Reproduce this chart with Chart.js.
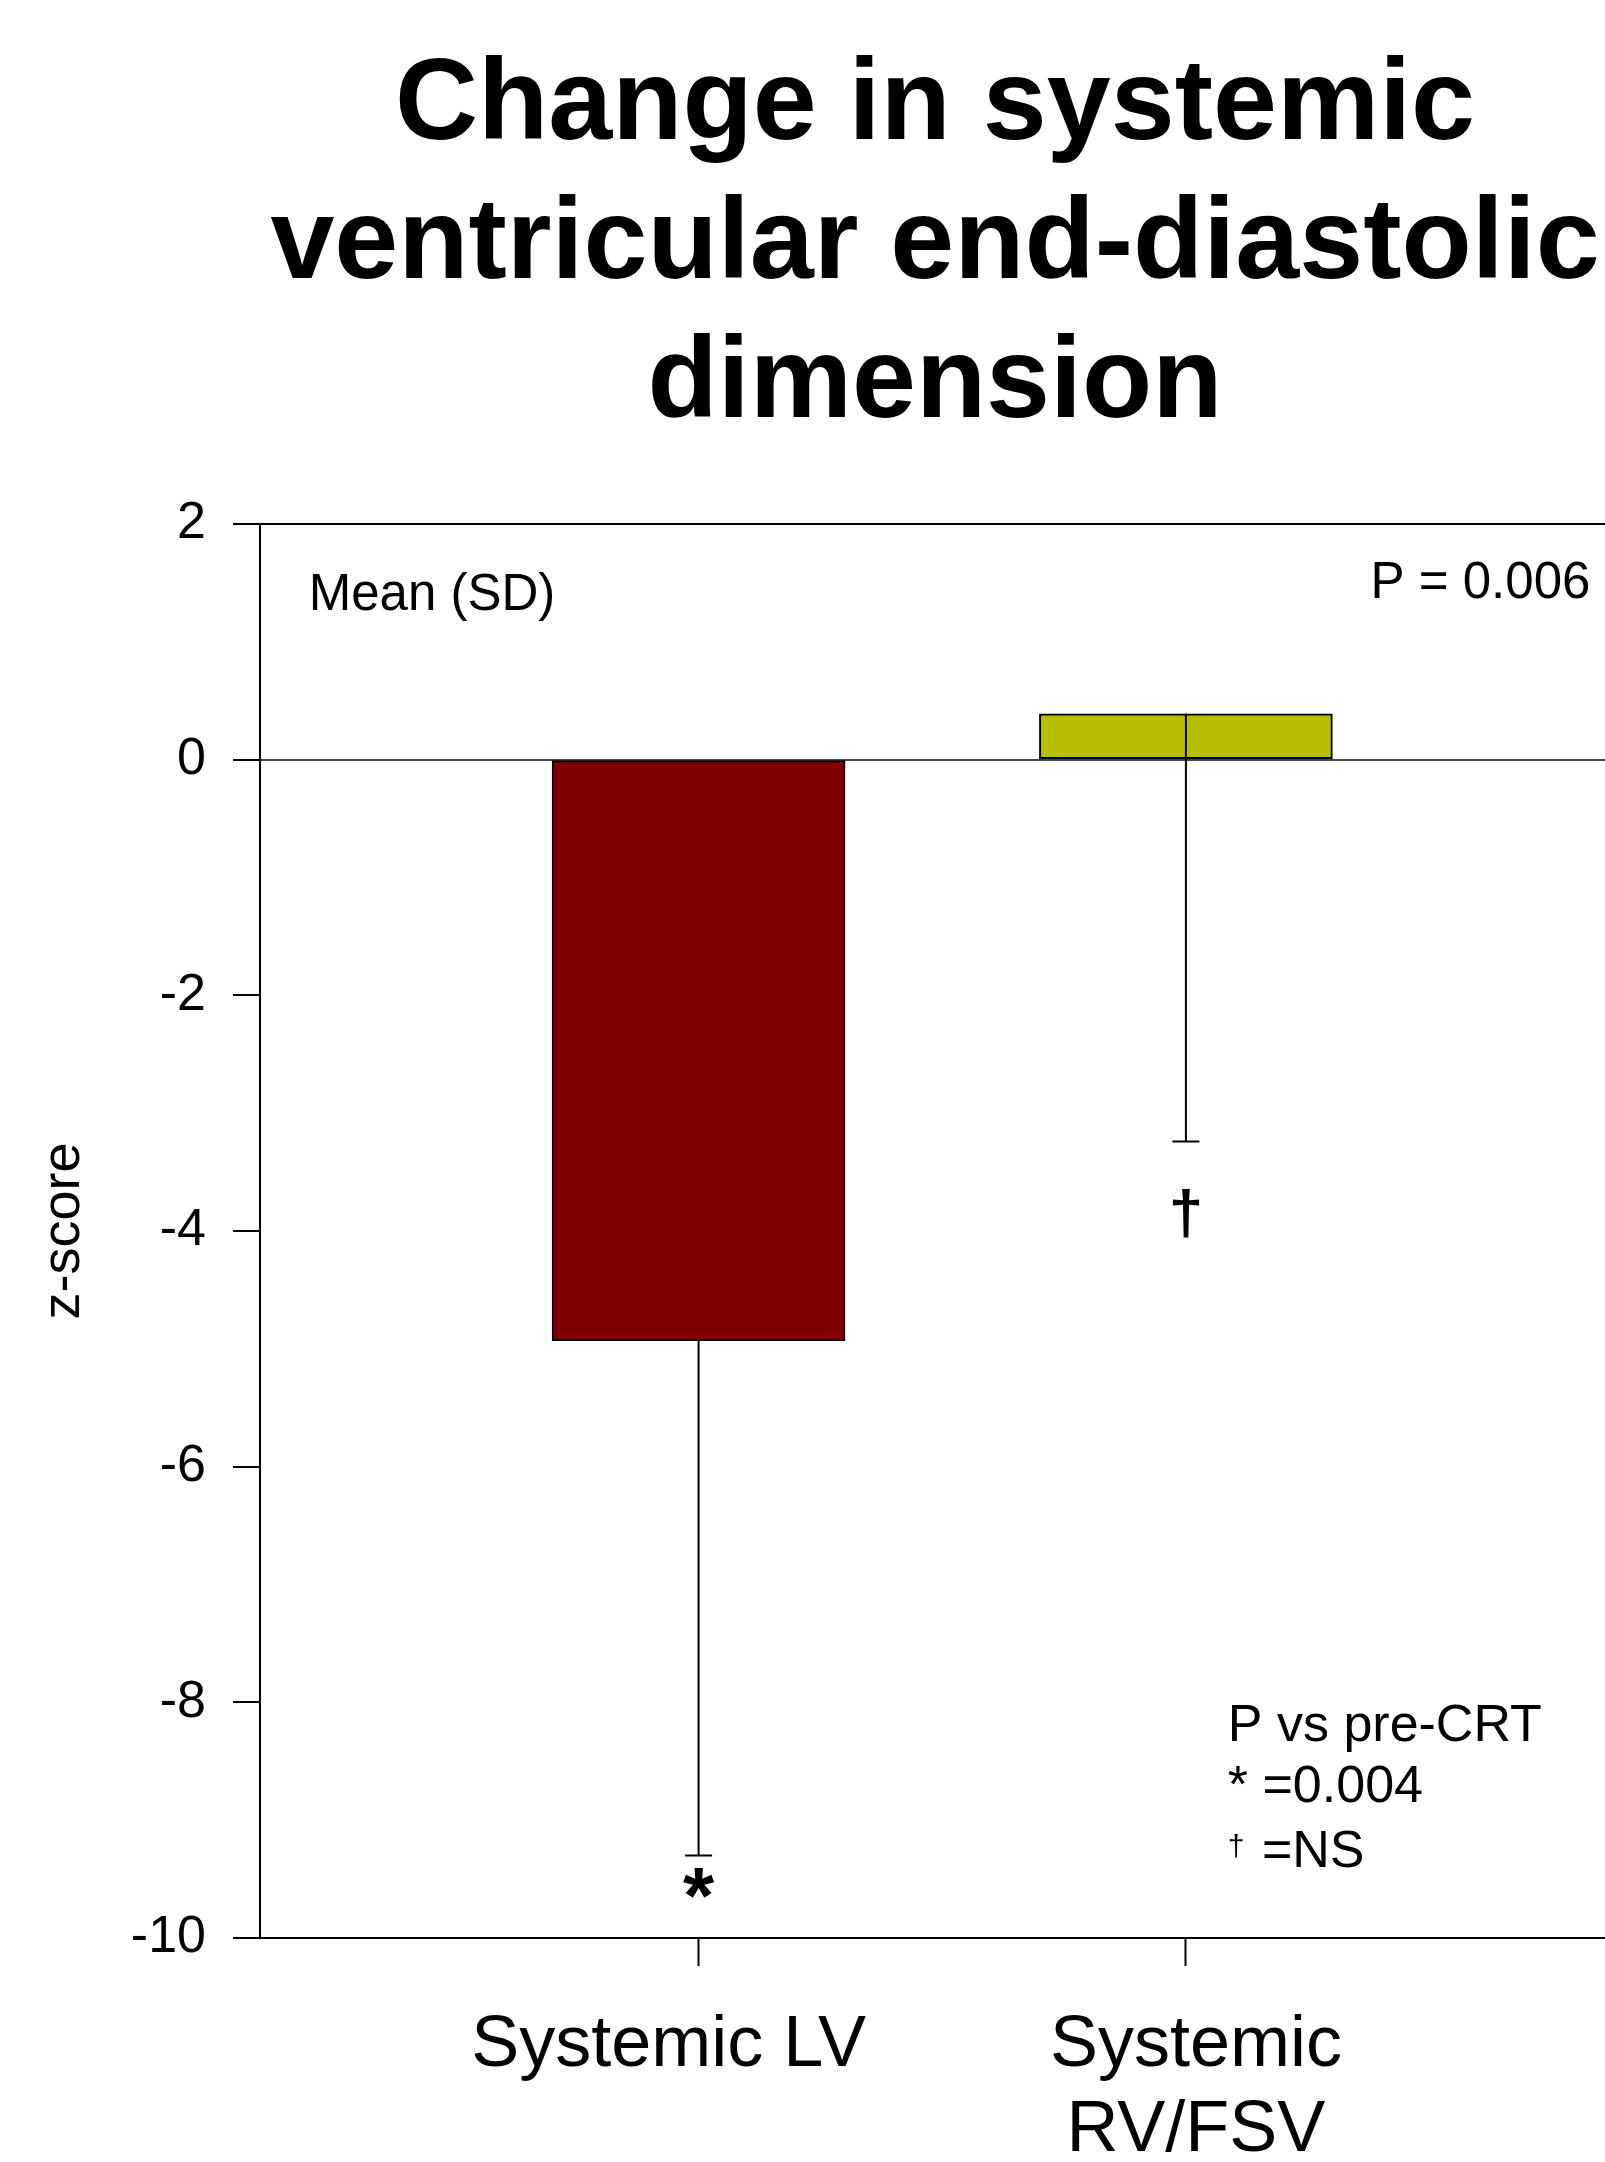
<!DOCTYPE html>
<html>
<head>
<meta charset="utf-8">
<script src="https://cdn.jsdelivr.net/npm/chart.js@4.4.1/dist/chart.umd.min.js"></script>
<style>
  html, body { margin: 0; padding: 0; background: #fff; overflow: hidden; }
  #wrap { position: relative; width: 1605px; height: 2162px; }
  #myChart { position: absolute; left: 0; top: 0; }
  #title {
    position: absolute; left: 0; top: 30px; width: 1870px;
    text-align: center; color: #000;
    font: bold 115px "Liberation Sans", Arial, sans-serif; line-height: 139px;
  }
</style>
</head>
<body>
<div id="wrap">
  <canvas id="myChart" width="1605" height="2162"></canvas>
  <div id="title">Change in systemic<br>ventricular end-diastolic<br>dimension</div>
</div>
<script>
// spaces nudge the labels off-centre the way the original sits
let groups = ["Systemic LV   ", [" Systemic", " RV/FSV"]];
let groupPos = [1, 2];
let means = [-4.93, 0.39];
let sds = [4.37, 3.63];
let colors = ["#800000", "#b7bf00"];
let yTicks = [-10, -8, -6, -4, -2, 0, 2];
let marks = ["*", "\u2020"];
let markY = [-9.87, -4.02];

const FONT = '"Liberation Sans", Arial, sans-serif';

// free text inside the plot, placed in axis units
let notes = [
  { text: "Mean (SD)", x: 0.2, y: 1.27, align: "left", size: 51 },
  { text: "P = 0.006", x: 2.83, y: 1.37, align: "right", size: 51 },
  { text: "P vs pre-CRT", x: 2.086, y: -8.33, align: "left", size: 52 },
  { text: "* =0.004", x: 2.086, y: -8.85, align: "left", size: 52 },
  { text: "\u2020", x: 2.086, y: -9.3, align: "left", size: 30 },
  { text: "=NS", x: 2.156, y: -9.4, align: "left", size: 52 },
];

const errorBars = {
  id: "errorBars",
  afterDatasetsDraw(chart) {
    let c = chart.ctx;
    let xs = chart.scales.x;
    let ys = chart.scales.y;
    c.save();
    c.strokeStyle = "#000";
    c.lineWidth = 2;
    for (let i = 0; i < means.length; i++) {
      let x = xs.getPixelForValue(groupPos[i]);
      let y0 = ys.getPixelForValue(means[i]);
      let y1 = ys.getPixelForValue(means[i] - sds[i]);
      c.beginPath();
      c.moveTo(x, y0);
      c.lineTo(x, y1);
      c.moveTo(x - 13.5, y1);
      c.lineTo(x + 13.5, y1);
      c.stroke();

      c.fillStyle = "#000";
      c.textAlign = "center";
      c.textBaseline = "alphabetic";
      c.font = "bold " + (i === 0 ? 80 : 62) + "px " + FONT;
      c.fillText(marks[i], x, ys.getPixelForValue(markY[i]));
    }

    for (let n of notes) {
      c.font = n.size + "px " + FONT;
      c.textAlign = n.align;
      c.fillText(n.text, xs.getPixelForValue(n.x), ys.getPixelForValue(n.y));
    }
    c.restore();
  },
};

let ctx = document.getElementById("myChart").getContext("2d");
let chart = new Chart(ctx, {
  type: "bar",
  data: {
    datasets: [
      {
        data: groupPos.map((x, i) => ({ x: x, y: means[i] })),
        backgroundColor: colors,
        borderColor: "#000",
        borderWidth: 2,
        borderSkipped: false,
        barThickness: 293,
      },
    ],
  },
  plugins: [errorBars],
  options: {
    responsive: false,
    animation: false,
    devicePixelRatio: 1,
    layout: { padding: { top: 524, left: 0, right: 0, bottom: 0 } },
    plugins: {
      legend: { display: false },
      tooltip: { enabled: false },
    },
    scales: {
      x: {
        type: "linear",
        min: 0.1,
        max: 2.86,
        offset: false,
        afterBuildTicks: (s) => {
          s.ticks = groupPos.map((v) => ({ value: v }));
        },
        afterFit: (s) => {
          s.height = 224;
        },
        border: { display: true, color: "#000", width: 2 },
        grid: {
          offset: false,
          drawOnChartArea: false,
          tickLength: 28,
          tickColor: "#000",
          tickWidth: 2,
        },
        ticks: {
          autoSkip: false,
          maxRotation: 0,
          padding: 38,
          color: "#000",
          font: { family: FONT, size: 72, lineHeight: 1.18 },
          callback: (v) => groups[groupPos.indexOf(v)],
        },
      },
      y: {
        min: -10,
        max: 2,
        afterBuildTicks: (s) => {
          s.ticks = yTicks.map((v) => ({ value: v }));
        },
        afterFit: (s) => {
          s.width = 260;
        },
        border: { display: true, color: "#000", width: 2 },
        grid: {
          color: (c) => (c.tick.value === 2 ? "#000" : c.tick.value === 0 ? "#444" : "rgba(0,0,0,0)"),
          lineWidth: 2,
          tickLength: 27,
          tickColor: "#000",
          tickWidth: 2,
        },
        ticks: {
          padding: 27,
          color: "#000",
          font: { family: FONT, size: 52 },
        },
        title: {
          display: true,
          text: "z-score",
          color: "#000",
          padding: { top: 32, bottom: 0 },
          font: { family: FONT, size: 54 },
        },
      },
    },
  },
});
</script>
</body>
</html>
